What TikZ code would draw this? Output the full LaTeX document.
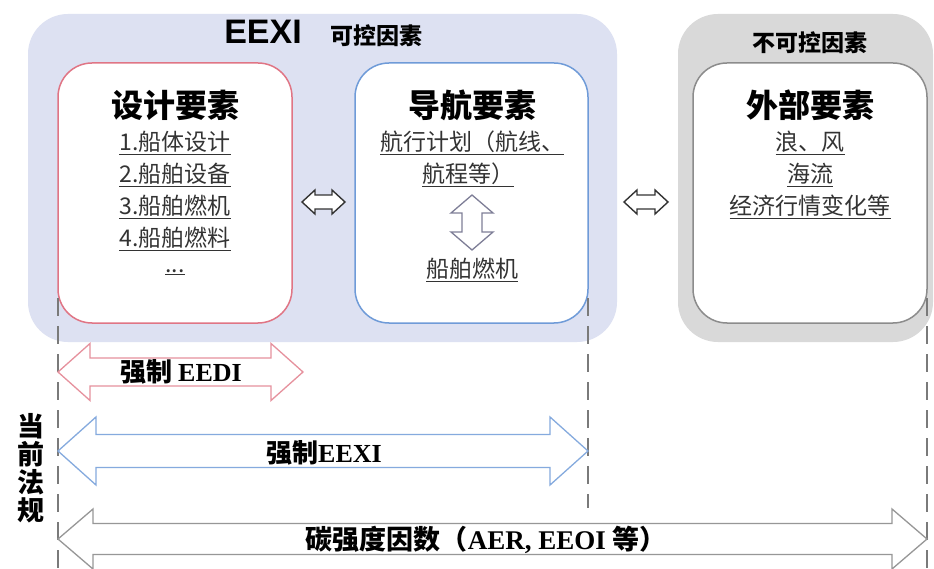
\documentclass[tikz,border=0pt]{standalone}
\usepackage{fontspec}
\setmainfont{Noto Sans CJK SC}
\newfontfamily\arialf{Liberation Sans}
\newfontfamily\timesf{Liberation Serif}
\definecolor{lav}{HTML}{DDE1F2}
\definecolor{grayfill}{HTML}{D9D9D9}
\definecolor{redline}{HTML}{E07585}
\definecolor{blueline}{HTML}{6F9BD8}
\definecolor{grayline}{HTML}{8C8C8C}
\definecolor{txt}{HTML}{333333}
\definecolor{dashc}{HTML}{7A7A7A}
\newcommand{\fs}[1]{\fontsize{#1}{#1}\selectfont}
\newcommand{\dblh}[7]{\draw[#1] (#2,#4) -- (#2+#7,#4-#6) -- (#2+#7,#4-#5) -- (#3-#7,#4-#5) -- (#3-#7,#4-#6) -- (#3,#4) -- (#3-#7,#4+#6) -- (#3-#7,#4+#5) -- (#2+#7,#4+#5) -- (#2+#7,#4+#6) -- cycle;}
\newcommand{\dblv}[7]{\draw[#1] (#4,#2) -- (#4+#6,#2+#7) -- (#4+#5,#2+#7) -- (#4+#5,#3-#7) -- (#4+#6,#3-#7) -- (#4,#3) -- (#4-#6,#3-#7) -- (#4-#5,#3-#7) -- (#4-#5,#2+#7) -- (#4-#6,#2+#7) -- cycle;}
\begin{document}
\begin{tikzpicture}[x=1pt,y=-1pt,
  panel/.style={rounded corners=40pt, inner sep=0pt},
  card/.style={draw, fill=white, rounded corners=34pt, line width=1.5pt, inner sep=0pt, minimum height=260pt, minimum width=234pt},
  ttl/.style={font=\fs{32}\bfseries, text=black, inner sep=0pt},
  item/.style={font=\fs{23}, text=txt, inner sep=0pt},
  lbl/.style={font=\fs{26}\bfseries, text=black, inner sep=0pt},
  vline/.style={draw=dashc, line width=2.5pt, dash pattern=on 18pt off 10pt},
  smallarr/.style={draw=black!80, fill=white, line width=1.4pt, line join=miter}
]
\useasboundingbox (0,0) rectangle (934,569);
\fill[white] (0,0) rectangle (934,569);
% panels
\node[panel, fill=lav, minimum width=589pt, minimum height=328pt] (ctrl) at (322.5,178) {};
\node[panel, fill=grayfill, minimum width=255pt, minimum height=328pt] (unctrl) at (805.5,178) {};
\node[inner sep=0pt, font=\arialf\bfseries\fs{34}] (eexi) at (263,32) {EEXI};
\node[inner sep=0pt, font=\fs{23}\bfseries] (kk) at (376,36) {可控因素};
\node[inner sep=0pt, font=\fs{23}\bfseries] (bkk) at (810,43) {不可控因素};
% cards
\node[card, draw=redline] (design) at (175,193) {};
\node[card, draw=blueline, minimum width=233pt] (nav) at (471.5,193) {};
\node[card, draw=grayline] (ext) at (810,193) {};
% design texts
\node[ttl] (dt) at (175,105) {设计要素};
\node[item] (d1) at (175,143) {\underline{1.船体设计}};
\node[item] (d2) at (175,175) {\underline{2.船舶设备}};
\node[item] (d3) at (175,207) {\underline{3.船舶燃机}};
\node[item] (d4) at (175,239) {\underline{4.船舶燃料}};
\node[item] (d5) at (175,272) {\underline{...}};
% nav texts
\node[ttl] (nt) at (472,105) {导航要素};
\node[item] (n1) at (472,143) {\underline{航行计划（航线、}};
\node[item] (n2) at (468,175) {\underline{航程等）}};
\node[item] (n3) at (472,270) {\underline{船舶燃机}};
\dblv{smallarr, draw=grayline!90!blue, line width=1.3pt}{195}{250}{472}{10}{21}{18}
% ext texts
\node[ttl] (et) at (810,105) {外部要素};
\node[item] (e1) at (810,143) {\underline{浪、风}};
\node[item] (e2) at (810,175) {\underline{海流}};
\node[item] (e3) at (810,207) {\underline{经济行情变化等}};
% small double arrows
\dblh{smallarr}{302}{345}{202}{7}{12}{13}
\dblh{smallarr}{624}{668}{202}{7}{12}{13}
% dashed lines
\coordinate (l1t) at (58,298); \coordinate (l1b) at (58,569);
\coordinate (l2t) at (588,298); \coordinate (l2b) at (588,508);
\coordinate (l3t) at (927,298); \coordinate (l3b) at (927,569);
\draw[vline] (l1t) -- (l1b);
\draw[vline] (l2t) -- (l2b);
\draw[vline] (l3t) -- (l3b);
% regulation arrows
\dblh{draw=redline!80, fill=white, line width=1.3pt}{58}{303}{372}{14}{28.5}{32}
\node[lbl] (eedi) at (181,372) {强制 {\timesf\bfseries EEDI}};
\dblh{draw=blueline!85, fill=white, line width=1.3pt}{58}{588}{451}{16.5}{34}{38}
\node[lbl] (eexil) at (324,453) {强制{\timesf\bfseries EEXI}};
\dblh{draw=grayline!90, fill=white, line width=1.3pt}{58}{927}{539}{15.5}{30}{35}
\node[lbl, font=\fs{27}\bfseries] (ci) at (486,540) {碳强度因数（{\timesf\bfseries AER, EEOI} 等）};
% side label
\node[lbl, font=\fs{27}\bfseries, align=center] (reg) at (31,468) {当\\[1pt]前\\[1pt]法\\[1pt]规};
\end{tikzpicture}
\end{document}
